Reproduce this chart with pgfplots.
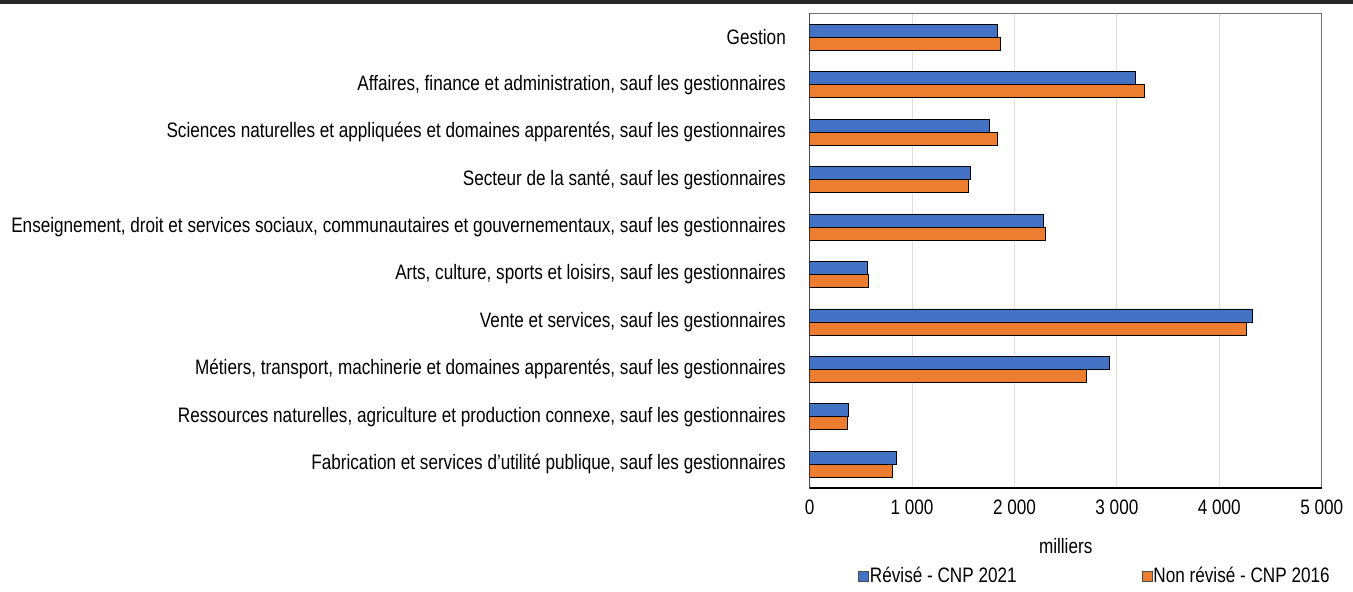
\documentclass[border=0pt]{standalone}
\usepackage{pgfplots}
\usepackage{pgfplotstable}
\pgfplotsset{compat=1.18}
\usepackage{fontspec}
\setmainfont{Liberation Sans}[FakeStretch=0.82]
\definecolor{cblue}{HTML}{4472C4}
\definecolor{corange}{HTML}{ED7D31}
\pgfplotstableread{
y rev non
9 1830 1866
8 3181 3271
7 1759 1834
6 1567 1547
5 2283 2302
4 565 572
3 4325 4266
2 2930 2707
1 377 370
0 851 813
}\data
\newcommand{\fs}{\fontsize{20.9}{25}\selectfont}
\begin{document}
\begin{tikzpicture}[x=1pt,y=1pt,font=\fs]
\begin{axis}[
  scale only axis,
  width=512.2pt, height=474.5pt,
  xbar, bar width=13pt,
  xmin=0, xmax=5000, ymin=-0.5, ymax=9.5,
  xtick={0,1000,...,5000}, ytick={0,...,9},
  yticklabels={{Fabrication et services d'utilité publique, sauf les gestionnaires},
    {Ressources naturelles, agriculture et production connexe, sauf les gestionnaires},
    {Métiers, transport, machinerie et domaines apparentés, sauf les gestionnaires},
    {Vente et services, sauf les gestionnaires},
    {Arts, culture, sports et loisirs, sauf les gestionnaires},
    {Enseignement, droit et services sociaux, communautaires et gouvernementaux, sauf les gestionnaires},
    {Secteur de la santé, sauf les gestionnaires},
    {Sciences naturelles et appliquées et domaines apparentés, sauf les gestionnaires},
    {Affaires, finance et administration, sauf les gestionnaires},
    {Gestion}},
  major tick length=0pt,
  xmajorgrids, grid style={draw=black!13, line width=1pt},
  axis line style={draw=black!55, line width=1pt},
  /pgf/number format/.cd, 1000 sep={\ }, assume math mode=true, /pgfplots/.cd,
  tick label style={font=\fs},
  xticklabel style={anchor=center, inner sep=0pt, yshift=-19pt},
  yticklabel style={anchor=east, inner sep=0pt, xshift=-23.6pt},
  xlabel={milliers},
  xlabel style={at={(axis description cs:0.5,-0.1222)}, anchor=center, inner sep=0pt, font=\fs},
  legend columns=2,
  legend style={at={(axis description cs:0.0945,-0.1855)}, anchor=west, draw=none, inner sep=0pt,
    font=\fs,
    nodes={inner sep=1pt},
    /tikz/every even column/.append style={column sep=124pt}},
  legend image code/.code={\draw[#1, draw=black!70, line width=0.8pt] (0pt,-5pt) rectangle (10pt,5pt);},
]
\addplot[fill=cblue, draw=black, line width=0.8pt, bar shift=6.5pt] table[x=rev, y=y] {\data};
\addplot[fill=corange, draw=black, line width=0.8pt, bar shift=-6.5pt] table[x=non, y=y] {\data};
\legend{Révisé - CNP 2021, Non révisé - CNP 2016}
\draw[black, line width=1.2pt] (rel axis cs:0,1) -- (rel axis cs:0,0) -- (rel axis cs:1,0);
\coordinate (O) at (rel axis cs:0,0);
\end{axis}
\fill[black!85] ([shift={(-809.6,484)}]O) rectangle ++(1353,4);
\pgfresetboundingbox
\path[use as bounding box] ([shift={(-809.6,-104)}]O) rectangle ++(1353,592);
\end{tikzpicture}
\end{document}
